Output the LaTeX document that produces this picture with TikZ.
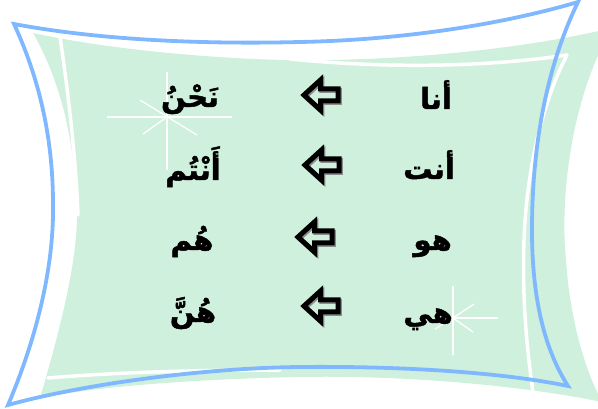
\documentclass[tikz,border=0pt]{standalone}
\usepackage{fontspec}
\newfontfamily\arabicfont[Script=Arabic,BoldFeatures={FakeBold=1.6}]{DejaVu Sans}
\TeXXeTstate=1
\definecolor{mint}{RGB}{207,240,220}
\definecolor{frameblue}{RGB}{128,184,255}
\begin{document}
\begin{tikzpicture}[x=1pt,y=-1pt,
  word/.style={font=\arabicfont\bfseries\fontsize{29}{34}\selectfont, inner sep=0pt},
  ray/.style={white, line width=1.3pt},
  gapline/.style={white, line width=3.5pt, line cap=round},
  frameline/.style={frameblue, line width=3.8pt, line join=miter},
  leftarrowpic/.pic={
    \draw[black!45, line width=5pt, line join=miter, shift={(1.4,1.4)}]
      (-17,0) -- (-0.5,-15) -- (-0.5,-6) -- (17,-6) -- (17,6) -- (-0.5,6) -- (-0.5,15) -- cycle;
    \draw[black, line width=5pt, line join=miter]
      (-17,0) -- (-0.5,-15) -- (-0.5,-6) -- (17,-6) -- (17,6) -- (-0.5,6) -- (-0.5,15) -- cycle;
  }]
\useasboundingbox (0,0) rectangle (598,409);
\clip (0,0) rectangle (598,409);
% green panel
\fill[mint] (33,33) .. controls (120,52) and (250,62) .. (330,60)
  .. controls (440,58) and (540,45) .. (612,28)
  .. controls (570,100) and (560,200) .. (566,260)
  .. controls (570,320) and (585,370) .. (602,402)
  .. controls (520,385) and (400,375) .. (300,377)
  .. controls (200,379) and (100,386) .. (40,398)
  .. controls (60,330) and (78,260) .. (77,210)
  .. controls (75,140) and (60,80) .. (33,33) -- cycle;
% white gap lines
\draw[gapline] (60,37) .. controls (68,90) and (76,160) .. (78,215);
\draw[gapline] (290,59) .. controls (380,68) and (480,68) .. (567,55);
\draw[gapline] (567,55) .. controls (546,95) and (527,160) .. (524,240)
  .. controls (522,300) and (527,350) .. (533,392);
\draw[gapline] (48,378) .. controls (120,372) and (200,370) .. (280,370);
% blue frame
\draw[frameline] (14,24) .. controls (110,42) and (220,44) .. (300,42)
  .. controls (400,40) and (500,25) .. (578,2)
  .. controls (545,70) and (532,150) .. (532,230)
  .. controls (532,300) and (545,350) .. (568,386)
  .. controls (500,372) and (400,366) .. (300,367)
  .. controls (200,368) and (80,385) .. (8,405)
  .. controls (40,330) and (54,260) .. (53,204)
  .. controls (53,140) and (40,80) .. (14,24) -- cycle;
% sparkles
\draw[ray] (107,117) -- (232,117);
\draw[ray] (167,72) -- (167,170);
\draw[ray] (140,100) -- (197,135);
\draw[ray] (143,134) -- (167,117);
\draw[ray] (453,286) -- (453,355);
\draw[ray] (453,318) -- (498,318);
\draw[ray] (453,318) -- (474,304);
\draw[ray] (453,318) -- (473,332);
\draw[ray] (453,318) -- (435,329);
% arrows
\pic (arr1) at (321,95) {leftarrowpic};
\pic (arr2) at (322,165) {leftarrowpic};
\pic (arr3) at (315,237) {leftarrowpic};
\pic (arr4) at (321,306) {leftarrowpic};
% words
\node[word, anchor=base east] (ana) at (452,109) {\beginR أنا\endR};
\node[word, anchor=base east] (anta) at (455,179) {\beginR أنت\endR};
\node[word, anchor=base east] (huwa) at (452,250) {\beginR هو\endR};
\node[word, anchor=base east] (hiya) at (453,323) {\beginR هي\endR};
\node[word, anchor=base] (nahnu) at (190,107) {\beginR نَحْنُ\endR};
\node[word, anchor=base] (antum) at (193,180) {\beginR أَنْتُم\endR};
\node[word, anchor=base] (hum) at (192,250) {\beginR هُم\endR};
\node[word, anchor=base] (hunna) at (193,322) {\beginR هُنَّ\endR};
\end{tikzpicture}
\end{document}
